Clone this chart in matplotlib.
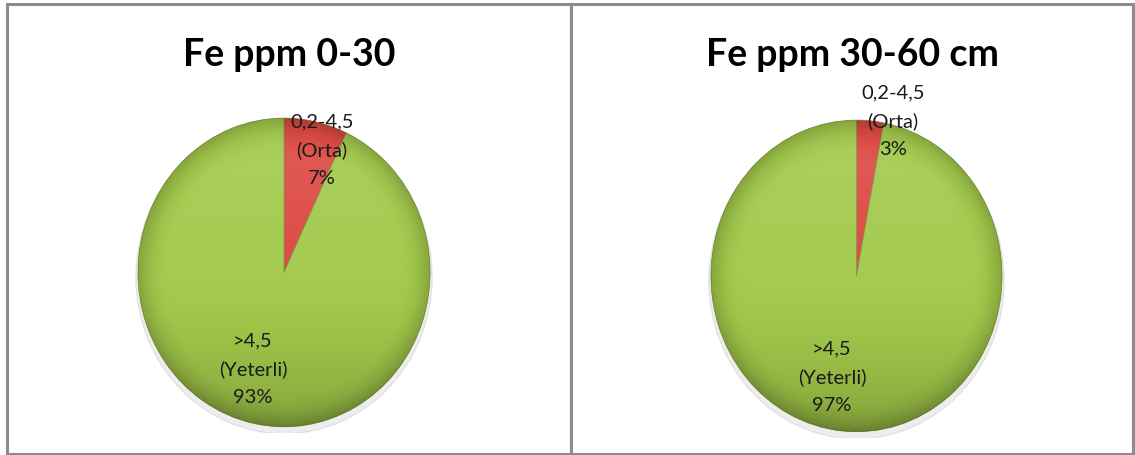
import numpy as np
import matplotlib.pyplot as plt
from matplotlib.patches import Ellipse, Rectangle, Circle

plt.rcParams['font.family'] = ['Lato', 'DejaVu Sans']

titles = ['Fe ppm 0-30', 'Fe ppm 30-60 cm']
classes = ['0,2-4,5\n(Orta)', '>4,5\n(Yeterli)']
shares_0_30 = [7, 93]
shares_30_60 = [3, 97]

W, H = 1135, 455
RED = '#dc463f'
GREEN = '#a2c94a'


def px(x0, y0, w, h):
    # pixel box (top-left origin) -> figure fraction
    return [x0 / W, 1 - (y0 + h) / H, w / W, h / H]


def shade(ax):
    # soft glossy lighting over the pie, clipped to the disc
    n = 300
    yy, xx = np.mgrid[1:-1:n * 1j, -1:1:n * 1j]
    r = np.sqrt(xx ** 2 + yy ** 2)
    dark = (np.clip((r - 0.8) / 0.2, 0, 1) ** 2 * 0.18
            + np.clip(-yy - 0.1, 0, 1) ** 1.5 * 0.22)
    light = np.clip(yy + 0.3, 0, 1) * 0.10 * (1 - np.clip((r - 0.75) / 0.25, 0, 1))
    img = np.zeros((n, n, 4))
    img[..., 3] = dark
    im = ax.imshow(img, extent=(-1, 1, -1, 1), zorder=3, aspect='auto')
    im.set_clip_path(Circle((0, 0), 1, transform=ax.transData))
    img2 = np.ones((n, n, 4))
    img2[..., 3] = light
    im2 = ax.imshow(img2, extent=(-1, 1, -1, 1), zorder=3, aspect='auto')
    im2.set_clip_path(Circle((0, 0), 1, transform=ax.transData))


def paint_pie(box, title_xy, title, values, label_pos):
    ax = fig.add_axes(px(*box))
    ax.add_patch(Ellipse((0.0, -0.03), 2.03, 2.03, color='#000000', alpha=0.07, zorder=0))
    ax.pie(values, colors=[RED, GREEN], startangle=90, counterclock=False,
           radius=1, wedgeprops=dict(linewidth=0.5, edgecolor='#7a8f3a', zorder=2))
    shade(ax)
    ax.set_xlim(-1.02, 1.02)
    ax.set_ylim(-1.04, 1.02)
    ax.set_aspect('auto')
    ax.axis('off')

    fig.text(title_xy[0] / W, 1 - title_xy[1] / H, title, ha='center', va='center',
             fontsize=27, fontweight='bold', color='#000000')
    for name, v, (lx, ly) in zip(classes, values, label_pos):
        fig.text(lx / W, 1 - ly / H, '{0}\n{1}%'.format(name, v), ha='center', va='center',
                 fontsize=14.5, color='#1a1a1a', linespacing=1.75, zorder=5)


fig = plt.figure(figsize=(W / 100, H / 100), dpi=100)

# panel frames
for x0, x1 in [(7, 571), (571, 1133)]:
    fig.patches.append(Rectangle((x0 / W, 1 / H), (x1 - x0) / W, (H - 5) / H,
                                 transform=fig.transFigure, fill=False,
                                 edgecolor='#8c8c8c', linewidth=2.2))

paint_pie((135, 115, 298, 318), (289, 55), titles[0], shares_0_30,
          [(322, 150), (253, 369)])
paint_pie((708, 117, 297, 321), (852, 55), titles[1], shares_30_60,
          [(893, 121), (832, 377)])

plt.savefig('out.png', dpi=100)
